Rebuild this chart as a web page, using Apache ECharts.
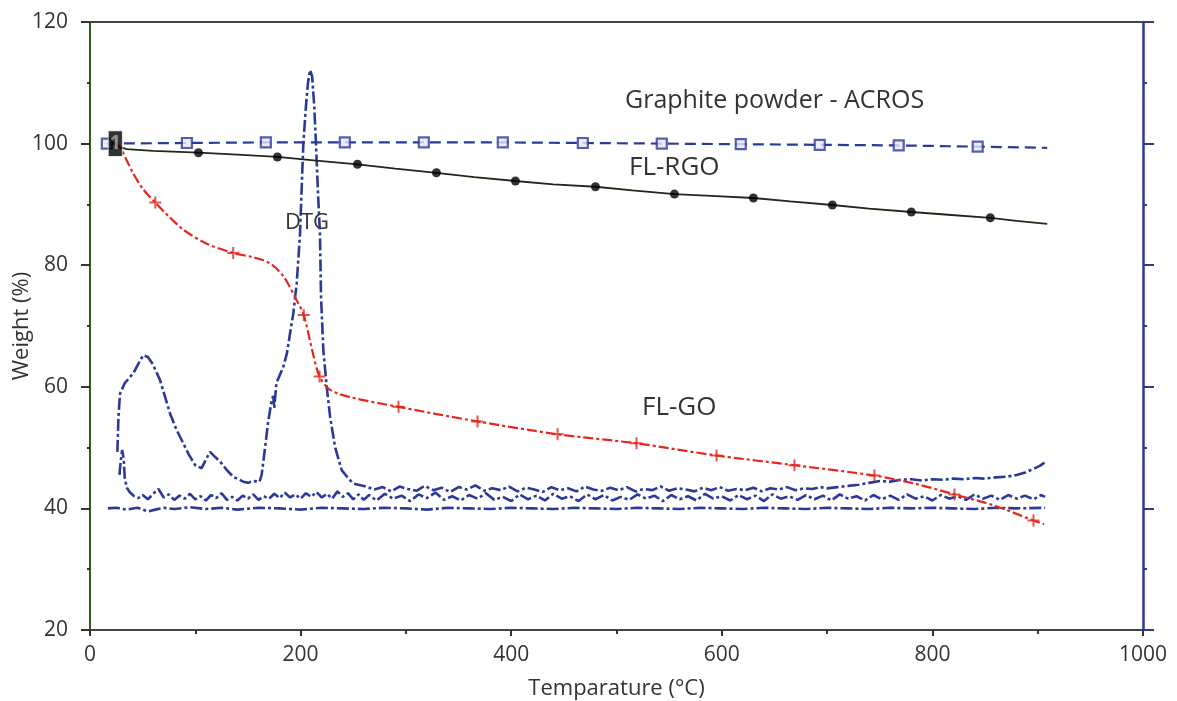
<!DOCTYPE html>
<html><head><meta charset="utf-8">
<script src="https://cdn.jsdelivr.net/npm/echarts@6/dist/echarts.min.js"></script>
<style>html,body{margin:0;padding:0;background:#fff}#c{width:1177px;height:701px}</style>
</head><body><div id="c"></div>
<script>
// Axis ranges
const xRange = [0, 1000, 200];
const yRange = [20, 120, 20];

// Graphite powder - ACROS (weight %)
const graphiteLine = [[16,100.0],[92,100.1],[167,100.2],[242,100.2],[317,100.2],[392,100.2],[468,100.1],[543,100.0],[618,99.9],[693,99.8],[768,99.7],[843,99.5],[909,99.3]];
const graphiteMarks = [[16,100.0],[92,100.1],[167,100.2],[242,100.2],[317,100.2],[392,100.2],[468,100.1],[543,100.0],[618,99.9],[693,99.8],[768,99.7],[843,99.5]];

// FL-RGO (weight %)
const rgoLine = [[20,100],[24,100.2],[28,99.4],[35,99.1],[60,98.8],[103,98.5],[140,98.2],[178,97.8],[215,97.2],[254,96.6],[290,95.9],[329,95.2],[365,94.5],[404,93.85],[440,93.3],[480,92.9],[515,92.3],[555,91.7],[590,91.4],[630,91.05],[665,90.5],[705,89.9],[740,89.3],[780,88.75],[815,88.3],[855,87.8],[880,87.3],[909,86.8]];
const rgoMarks = [[103,98.5],[178,97.8],[254,96.6],[329,95.2],[404,93.85],[480,92.9],[555,91.7],[630,91.05],[705,89.9],[780,88.75],[855,87.8]];

// FL-GO (weight %)
const goLine = [[22,100],[28,99.5],[35,97.2],[41,95.1],[50,92.6],[62,90.3],[75,88],[89,85.8],[110,83.6],[136,82],[155,81.3],[171,80.3],[184,78.1],[196,74.3],[203,71.8],[211,66],[218,61.7],[228,59.5],[247,58.3],[293,56.7],[368,54.3],[444,52.2],[519,50.7],[595,48.7],[669,47.1],[745,45.4],[785,44.0],[821,42.3],[860,40.4],[896,38.0],[906,37.4]];
const goMarks = [[62,90.3],[136,82],[203,71.8],[218,61.7],[293,56.7],[368,54.3],[444,52.2],[519,50.7],[595,48.7],[669,47.1],[745,45.4],[821,42.3],[896,38.0]];

// DTG traces
const dtgGO = [[26,49.3],[27,55],[28.5,58.9],[33,60.6],[41,62.2],[46,63.8],[50.6,65.2],[55,64.9],[60,63.6],[66.5,61.1],[71,58.5],[76,55.6],[82,53],[88.6,50.7],[94,48.8],[100,47.1],[106,46.6],[110,48],[114,49.3],[118,48.6],[123.5,47.7],[130,46.3],[136,45.2],[141,44.8],[145.6,44.4],[150,44.2],[155,44.5],[161,44.4],[163,45.5],[166,49.6],[169,54],[172.5,57.8],[174,58.5],[175,56.5],[177,60.6],[183.6,63.3],[187,65.5],[190,68.8],[193,72],[196.3,77],[199.4,85],[202.6,100],[205,106],[207,110],[209,112.1],[211,111],[213,106],[214.6,100],[216.5,92],[218.4,85],[219.4,74.8],[221.6,66],[224.8,60],[228,55.1],[232.7,50.1],[239,46.3],[245,45],[250,44.1],[262,43.6],
[270,43.1],[278,43.5],[286,42.8],[294,43.6],[302,43.2],[310,42.9],[318,43.7],[326,43.0],[334,43.4],[342,42.7],[350,43.5],[358,43.1],[366,43.8],[374,42.9],[382,43.3],[390,43.0],[398,43.6],[406,42.8],[414,43.4],[422,43.1],[430,42.7],[438,43.5],[446,43.0],[454,43.3],[462,42.8],[470,43.6],[478,43.1],[486,42.9],[494,43.4],[502,43.0],[510,43.5],[518,42.8],[526,43.2],[534,43.0],[542,43.6],[550,42.9],[558,43.3],[566,43.1],[574,42.8],[582,43.4],[590,43.0],[598,43.5],[606,42.9],[614,43.2],[622,43.0],[630,43.4],[638,42.8],[646,43.3],[654,43.1],[662,43.5],[670,43.0],[678,43.3],[686,43.2],[694,43.5],[700,43.3],
[710,43.5],[720,43.7],[730,43.9],[740,44.2],[750,44.5],[760,44.4],[770,44.7],[780,44.8],[790,44.6],[800,44.8],[810,44.7],[820,44.9],[830,44.8],[840,45.0],[850,44.9],[860,45.1],[870,45.2],[880,45.5],[888,45.9],[896,46.5],[902,47.0],[907,47.6]];

const dtgRGO = [[28,45.5],[29,47.5],[30.5,49.6],[32,48.2],[33,45.0],[35,43.4],[38,42.6],[42,42.0],[46,41.7],[50,42.2],[55,41.5],[60,42.4],[65,43.2],[70,41.8],[75,42.3],[80,41.4],[85,42.1],[90,41.6],[95,42.4],[100,41.5],[105,42.0],[110,41.3],[115,42.2],[120,41.7],[125,42.5],[130,41.4],[135,41.9],[140,41.3],[145,42.1],[150,41.6],[155,42.3],[160,41.4],[165,42.0],[170,41.6],[175,42.4],[180,41.7],[185,42.6],[190,41.8],[195,42.3],[200,41.6],[205,42.5],[210,41.9],[215,42.7],[220,41.8],[225,42.4],[230,41.6],[235,42.8],[240,41.9],[245,42.5],[250,41.5],[255,42.3],[260,41.4],[265,42.2],
[272,41.3],[280,42.4],[288,41.6],[296,42.1],[304,41.2],[312,42.3],[320,41.7],[328,42.6],[336,41.4],[344,42.0],[352,41.3],[360,42.2],[368,41.6],[376,42.5],[384,41.4],[392,41.9],[400,41.2],[408,42.3],[416,41.5],[424,42.1],[432,41.3],[440,42.4],[448,41.6],[456,42.0],[464,41.2],[472,42.3],[480,41.5],[488,42.2],[496,41.3],[504,41.9],[512,41.4],[520,42.3],[528,41.6],[536,42.1],[544,41.2],[552,42.2],[560,41.5],[568,42.0],[576,41.3],[584,42.4],[592,41.6],[600,42.0],[608,41.3],[616,42.2],[624,41.5],[632,42.1],[640,41.2],[648,42.3],[656,41.6],[664,42.0],[672,41.4],[680,42.2],[688,41.5],[696,42.1],[704,41.3],[712,42.3],[720,41.6],[728,42.0],[736,41.3],[744,42.2],[752,41.5],[760,42.1],[768,41.4],[776,42.3],[784,41.6],[792,42.0],[800,41.3],[808,42.2],[816,41.6],[824,42.0],[832,41.4],[840,42.3],[848,41.6],[856,42.1],[864,41.4],[872,42.2],[880,41.6],[888,42.1],[896,41.5],[903,42.2],[907,41.9]];

const dtgGraphite = [[17,40.0],[25,40.1],[35,39.8],[45,40.1],[55,39.5],[62,39.8],[70,40.1],[80,39.9],[95,40.2],[110,39.9],[125,40.1],[140,39.8],[160,40.1],[180,40.0],[200,39.8],[220,40.1],[240,40.0],[260,39.9],[280,40.1],[300,40.0],[320,39.8],[340,40.1],[360,40.0],[380,39.9],[400,40.1],[420,40.0],[440,39.9],[460,40.1],[480,40.0],[500,39.9],[520,40.1],[540,40.0],[560,39.9],[580,40.1],[600,40.0],[620,39.9],[640,40.1],[660,40.0],[680,39.9],[700,40.1],[720,40.0],[740,39.9],[760,40.1],[780,40.0],[800,40.1],[820,40.0],[840,39.9],[860,40.1],[880,40.0],[907,40.1]];

// Text annotations
const startTag = [[24,100]];
const labelGraphite = 'Graphite powder - ACROS';
const labelRGO = 'FL-RGO';
const labelGO = 'FL-GO';
const labelDTG = 'DTG';

const BLUE = '#2b3a98', RED = '#e5281e', TXT = '#333';
const FONT = 'Open Sans';

const chart = echarts.init(document.getElementById('c'));
const dtgStyle = {color: BLUE, width: 2.6, type: [12,3,3,3]};
chart.setOption({
  animation: false,
  backgroundColor: '#fff',
  textStyle: {fontFamily: FONT},
  grid: {left: 90, right: 34, top: 22, bottom: 71, containLabel: false, outerBoundsMode: 'none'},
  xAxis: [{
    type: 'value', min: xRange[0], max: xRange[1], interval: xRange[2],
    name: 'Temparature (°C)', nameLocation: 'middle', nameGap: 48, nameMoveOverlap: false,
    nameTextStyle: {fontSize: 22, color: TXT, fontFamily: FONT},
    axisLine: {show: true, onZero: false, lineStyle: {color: '#444', width: 2}},
    axisTick: {show: true, length: 6, lineStyle: {color: '#333', width: 2}},
    minorTick: {show: true, splitNumber: 2, length: 4, lineStyle: {color: '#333', width: 2}},
    axisLabel: {fontSize: 21, color: TXT, margin: 15, fontFamily: FONT, formatter: v => String(v)},
    splitLine: {show: false}
  }, {
    type: 'value', position: 'top', min: xRange[0], max: xRange[1],
    axisLine: {show: true, onZero: false, lineStyle: {color: '#444', width: 2}},
    axisTick: {show: false}, axisLabel: {show: false}, splitLine: {show: false}
  }],
  yAxis: [{
    type: 'value', min: yRange[0], max: yRange[1], interval: yRange[2],
    name: 'Weight (%)', nameLocation: 'middle', nameGap: 57, nameMoveOverlap: false,
    nameTextStyle: {fontSize: 22, color: TXT, fontFamily: FONT},
    axisLine: {show: true, onZero: false, lineStyle: {color: '#2e5e1e', width: 2}},
    axisTick: {show: true, length: 9, lineStyle: {color: '#333', width: 2}},
    minorTick: {show: true, splitNumber: 2, length: 3, lineStyle: {color: '#333', width: 2}},
    axisLabel: {fontSize: 21, color: TXT, margin: 22, fontFamily: FONT},
    splitLine: {show: false}
  }, {
    type: 'value', position: 'right', min: yRange[0], max: yRange[1], interval: yRange[2],
    axisLine: {show: true, onZero: false, lineStyle: {color: BLUE, width: 2.5}},
    axisTick: {show: true, length: 11, lineStyle: {color: BLUE, width: 2}},
    minorTick: {show: true, splitNumber: 2, length: 4, lineStyle: {color: BLUE, width: 2}},
    axisLabel: {show: false}, splitLine: {show: false}
  }],
  series: [
    {type: 'line', data: dtgGraphite, showSymbol: false, lineStyle: dtgStyle, z: 2},
    {type: 'line', data: dtgRGO, showSymbol: false, lineStyle: dtgStyle, z: 2},
    {type: 'line', data: dtgGO, showSymbol: false, lineStyle: dtgStyle, z: 2},
    {type: 'line', data: graphiteLine, showSymbol: false, lineStyle: {color: BLUE, width: 2.2, type: [11,6]}, z: 3},
    {type: 'scatter', data: graphiteMarks, symbol: 'rect', symbolSize: 10,
      itemStyle: {color: '#e6e9f6', borderColor: BLUE, borderWidth: 2.2}, z: 4},
    {type: 'line', data: rgoLine, showSymbol: false, lineStyle: {color: '#1c2a16', width: 1.8}, z: 3},
    {type: 'scatter', data: rgoMarks, symbol: 'circle', symbolSize: 9, itemStyle: {color: '#000'}, z: 4},
    {type: 'line', data: goLine, showSymbol: false, smooth: 0.3, lineStyle: {color: RED, width: 2.2, type: [10,3,3,3]}, z: 5},
    {type: 'scatter', data: goMarks, symbol: 'path://M-1,-6L1,-6L1,-1L6,-1L6,1L1,1L1,6L-1,6L-1,1L-6,1L-6,-1L-1,-1Z', symbolSize: 12,
      itemStyle: {color: RED}, z: 6},
    {type: 'scatter', data: startTag, symbol: 'rect', symbolSize: [14, 26],
      itemStyle: {color: '#000', borderColor: '#fff', borderWidth: 1}, z: 7,
      label: {show: true, position: 'inside', formatter: '1', color: '#aaa', fontSize: 20, fontWeight: 'bold', fontFamily: FONT}}
  ],
  graphic: [
    {type: 'text', left: 625, top: 88, style: {text: labelGraphite, fontSize: 25, fill: TXT, fontFamily: FONT}},
    {type: 'text', left: 629, top: 155, style: {text: labelRGO, fontSize: 26, fill: TXT, fontFamily: FONT}},
    {type: 'text', left: 642, top: 395, style: {text: labelGO, fontSize: 26, fill: TXT, fontFamily: FONT}},
    {type: 'text', left: 285, top: 212, style: {text: labelDTG, fontSize: 22, fill: TXT, fontFamily: FONT}}
  ]
});
</script></body></html>
